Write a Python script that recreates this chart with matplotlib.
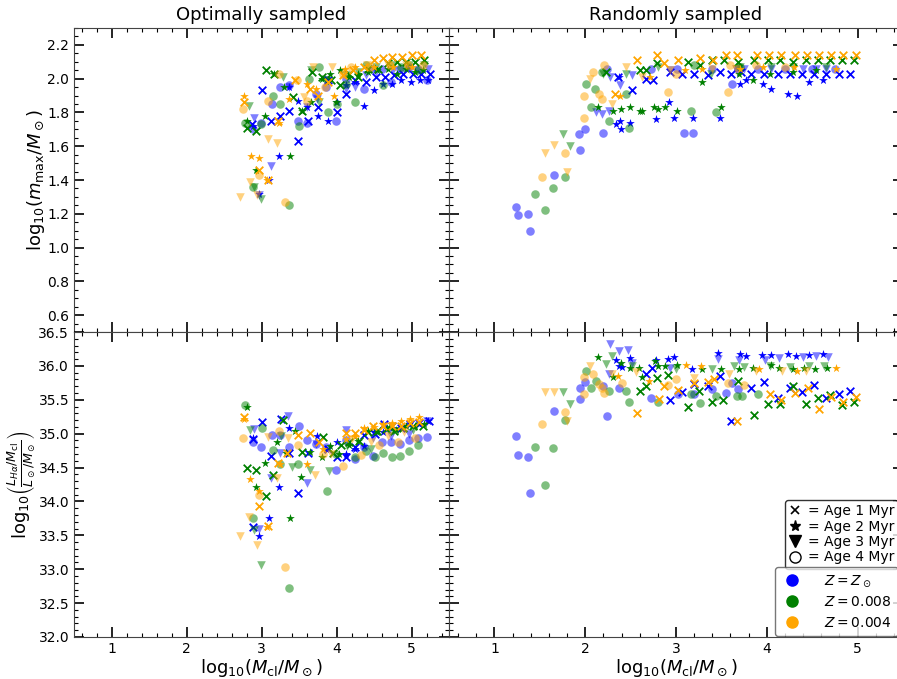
import numpy as np
import matplotlib
matplotlib.use("Agg")
import matplotlib.pyplot as plt
from matplotlib.lines import Line2D
from matplotlib.ticker import AutoMinorLocator, MultipleLocator, FormatStrFormatter

# ---------------- data: (log10 Mcl, value) ----------------
# Optimally sampled, log10(m_max)
OPT_M_SUN_A1 = [(2.87,1.73),(3.01,1.93),(3.12,1.75),(3.25,1.78),(3.36,1.81),(3.48,1.63),(3.62,1.75),(3.75,1.83),(3.88,1.99),(4.0,1.80),(4.12,1.91),(4.25,1.99),(4.39,1.98),(4.52,2.01),(4.64,2.01),(4.77,2.02),(4.88,2.03),(5.02,2.03),(5.13,2.03),(5.24,2.03)]
OPT_M_SUN_A2 = [(2.88,1.72),(2.96,1.32),(3.10,1.40),(3.23,1.54),(3.37,1.95),(3.48,1.87),(3.60,1.83),(3.75,1.78),(3.88,1.75),(4.01,1.86),(4.13,1.96),(4.25,1.98),(4.37,1.84),(4.50,1.93),(4.62,1.97),(4.74,1.97),(4.86,1.99),(4.99,1.98),(5.11,1.99),(5.22,1.99)]
OPT_M_SUN_A3 = [(2.90,1.77),(2.97,1.31),(3.13,1.48),(3.37,1.95),(3.61,1.83),(3.74,1.88),(3.86,1.99),(4.12,1.94),(4.25,1.95),(4.39,2.02),(4.53,2.04),(4.75,2.05),(4.97,2.06),(5.22,2.06)]
OPT_M_SUN_A4 = [(2.88,1.70),(2.99,1.74),(3.14,1.85),(3.24,1.95),(3.37,1.96),(3.48,1.75),(3.60,1.74),(3.73,1.91),(3.86,1.95),(3.99,1.75),(4.12,2.0),(4.36,1.94),(4.48,2.06),(4.61,2.06),(4.73,1.98),(4.85,2.06),(4.97,2.07),(5.08,2.06),(5.20,1.99)]
OPT_M_008_A1 = [(2.80,1.71),(2.93,1.69),(3.06,2.05),(3.16,2.03),(3.42,1.89),(3.54,1.81),(3.67,2.04),(3.80,2.01),(3.92,1.99),(4.04,1.96),(4.16,2.03),(4.28,2.01),(4.42,2.06),(4.55,2.06),(4.68,2.09),(4.80,2.10),(4.93,2.10),(5.04,2.10),(5.17,2.11)]
OPT_M_008_A2 = [(2.80,1.75),(2.92,1.46),(3.05,1.78),(3.17,2.03),(3.30,1.95),(3.38,1.54),(3.54,1.81),(3.66,1.86),(3.80,2.0),(3.91,2.03),(3.99,1.86),(4.04,2.05),(4.17,2.01),(4.29,2.03),(4.42,2.04),(4.54,2.05),(4.68,2.06),(4.80,2.03),(4.93,2.06),(5.04,2.04),(5.15,2.05)]
OPT_M_008_A3 = [(2.83,1.84),(2.90,1.36),(2.99,1.29),(3.28,2.01),(3.66,2.05),(3.77,1.86),(3.86,1.99),(4.13,2.02),(4.28,2.04),(4.53,2.07),(4.75,2.08),(4.97,2.08),(5.17,2.08)]
OPT_M_008_A4 = [(2.78,1.74),(2.88,1.36),(2.99,1.73),(3.15,1.90),(3.24,1.85),(3.37,1.25),(3.50,1.72),(3.63,2.0),(3.76,2.07),(3.88,1.80),(4.0,1.85),(4.12,1.97),(4.25,1.86),(4.39,2.08),(4.62,1.96),(4.86,2.07),(5.08,2.05)]
OPT_M_004_A1 = [(2.76,1.86),(2.96,1.46),(3.08,1.40),(3.22,1.75),(3.45,1.99),(3.64,1.94),(3.75,1.90),(3.88,1.98),(4.08,2.02),(4.22,2.05),(4.36,2.07),(4.50,2.11),(4.62,2.12),(4.74,2.13),(4.87,2.13),(5.0,2.14),(5.12,2.14)]
OPT_M_004_A2 = [(2.77,1.90),(2.86,1.54),(2.97,1.53),(3.07,1.40),(3.23,1.74),(3.36,1.88),(3.60,1.97),(3.72,1.94),(3.97,1.90),(4.11,2.06),(4.24,2.07),(4.50,2.07),(4.75,2.07),(5.0,2.07)]
OPT_M_004_A3 = [(2.71,1.30),(2.84,1.39),(2.94,1.31),(3.09,1.64),(3.20,1.62),(3.57,1.89),(3.69,2.07),(3.94,2.07),(4.40,2.08),(4.68,2.08),(4.93,2.08)]
OPT_M_004_A4 = [(2.75,1.82),(2.96,1.43),(3.08,1.87),(3.23,2.03),(3.31,1.27),(3.47,1.99),(3.60,1.87),(3.84,1.95),(4.08,2.03),(4.19,2.07),(4.44,2.07),(4.71,2.08),(4.95,2.08),(5.15,2.08)]

# Randomly sampled, log10(m_max)
RAN_M_SUN_A1 = [(2.36,2.01),(2.51,1.93),(2.67,2.0),(2.75,1.99),(2.93,2.04),(3.07,2.03),(3.20,2.03),(3.35,2.02),(3.49,2.04),(3.61,2.03),(3.72,2.04),(3.83,2.03),(3.97,2.03),(4.12,2.03),(4.25,2.03),(4.39,2.03),(4.52,2.03),(4.65,2.03),(4.79,2.03),(4.92,2.03)]
RAN_M_SUN_A2 = [(2.34,1.73),(2.38,1.75),(2.39,1.70),(2.37,2.01),(2.49,1.74),(2.78,1.76),(2.92,1.86),(2.98,1.77),(3.19,1.77),(3.48,1.77),(3.71,1.97),(3.77,1.99),(3.96,1.97),(4.05,1.94),(4.23,1.91),(4.33,1.90),(4.47,1.98),(4.62,1.99)]
RAN_M_SUN_A3 = [(2.12,1.80),(2.19,1.79),(2.26,1.81),(2.27,2.01),(2.38,1.96),(2.51,2.02),(2.93,2.05),(3.66,2.06),(3.75,2.06),(4.05,2.06),(4.40,2.06),(4.54,2.06),(4.65,2.06)]
RAN_M_SUN_A4 = [(1.24,1.24),(1.26,1.19),(1.37,1.20),(1.39,1.10),(1.66,1.43),(1.94,1.58),(1.93,1.67),(2.0,1.70),(2.20,1.68),(2.24,2.06),(2.73,2.06),(3.01,2.06),(3.09,1.68),(3.19,1.68),(3.40,2.06),(3.62,1.97),(3.68,2.06),(3.90,2.06),(4.20,2.06),(4.50,2.06),(4.75,2.06)]
RAN_M_008_A1 = [(2.23,2.04),(2.60,2.05),(2.67,2.05),(2.79,2.09),(3.13,2.10),(3.26,2.08),(3.40,2.11),(3.53,2.11),(3.68,2.10),(3.86,2.11),(4.01,2.11),(4.14,2.11),(4.29,2.10),(4.43,2.11),(4.56,2.11),(4.70,2.11),(4.83,2.11),(4.96,2.11)]
RAN_M_008_A2 = [(2.14,1.83),(2.31,1.81),(2.39,1.82),(2.49,1.83),(2.60,1.81),(2.63,1.81),(2.76,1.83),(2.80,1.82),(2.88,1.83),(3.01,1.81),(3.29,1.98),(3.50,1.83),(3.69,2.03),(3.85,1.99),(4.03,2.03),(4.29,2.04),(4.54,2.05)]
RAN_M_008_A3 = [(1.76,1.67),(1.83,1.60),(2.20,2.03),(2.45,2.03),(2.80,2.07),(3.39,2.03),(3.70,2.07),(4.05,2.07),(4.29,2.07),(4.65,2.07)]
RAN_M_008_A4 = [(1.45,1.32),(1.56,1.22),(1.64,1.35),(1.78,1.42),(2.01,1.97),(2.06,1.83),(2.11,1.94),(2.19,2.04),(2.26,1.75),(2.45,1.91),(2.48,1.71),(3.17,1.81),(3.20,2.08),(3.44,1.80),(3.70,2.07)]
RAN_M_004_A1 = [(2.33,1.91),(2.57,2.11),(2.79,2.14),(2.87,2.09),(3.02,2.11),(3.26,2.12),(3.41,2.11),(3.55,2.14),(3.67,2.14),(3.89,2.14),(4.02,2.14),(4.16,2.14),(4.31,2.14),(4.44,2.14),(4.57,2.14),(4.71,2.14),(4.84,2.14),(4.98,2.14)]
RAN_M_004_A2 = [(2.38,1.90),(2.71,2.01),(3.10,2.05),(3.29,2.06),(3.70,2.06),(3.96,2.07),(4.30,2.07),(4.76,2.06)]
RAN_M_004_A3 = [(1.56,1.56),(1.66,1.61),(1.80,1.45),(2.05,2.0),(2.30,1.85),(2.45,2.07),(2.63,2.01),(2.93,2.05),(3.40,2.06),(3.66,2.06)]
RAN_M_004_A4 = [(1.52,1.42),(1.78,1.56),(1.99,1.77),(1.99,1.90),(2.09,2.04),(2.15,1.91),(2.18,1.88),(2.21,2.08),(2.91,1.92),(3.0,2.03),(3.57,1.92),(3.59,2.08),(3.88,2.08),(4.2,2.07)]

# Optimally sampled, log10(L_Halpha/Mcl)
OPT_L_SUN_A1 = [(2.88,34.92),(2.89,33.63),(3.01,35.17),(3.12,34.67),(3.26,35.21),(3.37,34.72),(3.49,34.13),(3.62,34.72),(3.88,34.77),(4.0,34.65),(4.12,34.65),(4.25,34.81),(4.37,34.98),(4.51,34.99),(4.63,35.14),(4.74,35.12),(4.86,35.08),(4.98,35.14),(5.10,35.16),(5.23,35.18)]
OPT_L_SUN_A2 = [(2.88,34.93),(2.96,33.49),(3.10,33.75),(3.23,34.22),(3.37,35.08),(3.74,34.96),(3.86,34.77),(4.0,34.87),(4.12,34.70),(4.25,34.77),(4.37,34.82),(4.50,35.03),(4.62,35.02),(4.74,35.09),(4.86,35.09),(4.97,35.14),(5.10,35.15),(5.22,35.19)]
OPT_L_SUN_A3 = [(2.90,35.07),(2.97,33.59),(3.12,34.34),(3.24,34.72),(3.35,35.26),(3.60,34.27),(3.73,34.85),(4.12,35.05),(4.48,34.94),(4.73,34.97),(4.97,35.0),(5.20,35.19)]
OPT_L_SUN_A4 = [(2.88,34.87),(2.99,34.81),(3.14,34.98),(3.24,34.98),(3.37,34.80),(3.50,35.12),(3.60,34.91),(3.73,34.85),(3.86,34.81),(3.99,34.46),(4.12,34.90),(4.24,34.62),(4.36,34.80),(4.48,34.67),(4.61,34.88),(4.73,34.88),(4.84,34.85),(4.96,34.90),(5.08,34.93),(5.20,34.95)]
OPT_L_008_A1 = [(2.81,34.50),(2.93,34.46),(3.06,34.08),(3.15,34.39),(3.29,35.20),(3.54,34.73),(3.82,34.95),(3.95,34.72),(4.06,34.84),(4.17,34.87),(4.30,34.89),(4.42,35.02),(4.54,35.04),(4.66,35.07),(4.77,35.04),(4.89,35.08),(5.02,35.11),(5.15,35.12)]
OPT_L_008_A2 = [(2.80,35.40),(2.92,34.22),(3.05,34.56),(3.20,34.88),(3.32,34.71),(3.38,33.75),(3.45,35.04),(3.53,34.36),(3.65,34.73),(3.80,34.65),(3.91,34.82),(4.03,34.70),(4.16,34.83),(4.28,34.89),(4.42,35.04),(4.54,35.02),(4.67,35.08),(4.79,35.06),(4.92,35.12),(5.04,35.12),(5.16,35.14)]
OPT_L_008_A3 = [(2.84,35.06),(2.90,33.58),(2.99,33.06),(3.26,34.96),(3.40,34.51),(3.65,34.47),(3.90,34.45),(4.14,34.82),(4.46,34.77),(4.75,35.04),(5.02,35.06)]
OPT_L_008_A4 = [(2.78,35.42),(2.88,33.75),(3.01,35.08),(3.15,34.76),(3.24,34.55),(3.36,32.72),(3.48,34.55),(3.87,34.15),(3.99,34.70),(4.25,34.65),(4.39,34.75),(4.51,34.66),(4.62,34.71),(4.74,34.66),(4.85,34.67),(4.97,34.75),(5.09,34.83)]
OPT_L_004_A1 = [(2.76,35.24),(2.96,33.93),(3.08,33.64),(3.22,34.56),(3.34,34.71),(3.49,34.98),(3.64,35.01),(3.76,34.87),(4.12,35.01),(4.24,35.01),(4.37,35.06),(4.48,35.11),(4.62,35.11),(4.74,35.11),(4.86,35.12),(4.98,35.16),(5.10,35.17)]
OPT_L_004_A2 = [(2.76,35.22),(2.85,34.33),(2.97,34.15),(3.07,33.63),(3.24,34.55),(3.60,34.55),(3.82,34.78),(4.12,34.92),(4.24,34.97),(4.36,35.08),(4.50,35.10),(4.62,35.14),(4.74,35.16),(4.86,35.19),(4.98,35.21),(5.10,35.24)]
OPT_L_004_A3 = [(2.71,33.49),(2.83,33.77),(2.94,33.36),(3.09,34.95),(3.20,34.34),(3.35,34.94),(3.71,34.39),(3.92,34.70),(4.20,34.92),(4.46,34.87),(4.68,34.97),(4.90,35.02)]
OPT_L_004_A4 = [(2.75,34.94),(2.96,34.10),(3.23,35.04),(3.31,33.03),(3.48,34.84),(3.82,34.70),(4.08,34.53),(4.33,34.68),(4.57,34.83),(4.82,34.87),(5.04,34.94)]

# Randomly sampled, log10(L_Halpha/Mcl)
RAN_L_SUN_A1 = [(2.67,35.88),(2.74,35.97),(2.93,35.50),(3.07,35.62),(3.20,35.73),(3.35,35.71),(3.49,35.85),(3.61,35.18),(3.83,35.67),(3.97,35.76),(4.12,35.53),(4.25,35.68),(4.39,35.61),(4.52,35.72),(4.65,35.53),(4.79,35.59),(4.92,35.63)]
RAN_L_SUN_A2 = [(2.34,36.08),(2.37,36.0),(2.40,35.99),(2.49,36.11),(2.78,36.08),(2.91,36.10),(2.98,36.13),(3.18,35.96),(3.46,36.19),(3.70,36.18),(3.77,36.14),(3.95,36.16),(4.05,36.16),(4.23,36.18),(4.32,36.15),(4.47,36.16),(4.62,36.18)]
RAN_L_SUN_A3 = [(2.27,36.33),(2.37,36.22),(2.47,36.24),(2.26,35.88),(2.51,36.05),(2.93,35.97),(3.46,36.10),(3.69,36.08),(3.98,36.09),(4.13,36.11),(4.40,36.13),(4.54,36.15),(4.67,36.13)]
RAN_L_SUN_A4 = [(1.24,34.96),(1.26,34.68),(1.37,34.65),(1.39,34.12),(1.66,35.33),(1.94,35.51),(1.94,35.67),(2.0,35.76),(2.20,35.71),(2.24,35.26),(2.37,35.67),(2.73,35.53),(3.02,35.59),(3.20,35.59),(3.40,35.66),(3.55,35.60),(3.62,35.75),(3.68,35.66)]
RAN_L_008_A1 = [(2.60,35.63),(2.67,35.71),(2.79,35.82),(2.91,35.87),(3.13,35.40),(3.25,35.63),(3.40,35.47),(3.52,35.50),(3.68,35.78),(3.86,35.28),(4.01,35.44),(4.14,35.44),(4.29,35.71),(4.43,35.44),(4.56,35.52),(4.70,35.57),(4.83,35.42),(4.96,35.46)]
RAN_L_008_A2 = [(2.14,36.13),(2.31,35.83),(2.39,36.05),(2.49,35.97),(2.59,35.97),(2.63,35.83),(2.77,36.07),(2.80,36.0),(2.88,36.0),(3.01,36.02),(3.29,35.95),(3.50,35.95),(3.69,35.96),(3.85,35.97),(4.05,36.01),(4.13,35.97),(4.29,35.96),(4.41,35.97),(4.53,35.96),(4.66,35.97)]
RAN_L_008_A3 = [(1.76,35.61),(1.83,35.44),(2.23,36.03),(2.30,36.15),(2.52,36.0),(3.0,35.95),(3.40,35.96),(3.64,36.0),(3.75,35.99),(4.03,36.0),(4.25,35.99),(4.47,36.0),(4.63,36.0)]
RAN_L_008_A4 = [(1.45,34.80),(1.56,34.24),(1.64,34.79),(1.78,35.20),(2.01,35.93),(2.06,35.67),(2.12,35.77),(2.26,35.63),(2.45,35.63),(2.48,35.47),(2.80,35.47),(3.17,35.59),(3.26,35.45),(3.44,35.55),(3.67,35.55),(3.73,35.55),(3.90,35.58)]
RAN_L_004_A1 = [(2.57,35.30),(2.81,35.51),(2.87,35.70),(3.02,35.64),(3.20,35.75),(3.35,35.76),(3.42,35.80),(3.67,35.18),(4.03,35.59),(4.16,35.49),(4.31,35.60),(4.45,35.67),(4.58,35.36),(4.71,35.54),(4.84,35.46),(4.98,35.54)]
RAN_L_004_A2 = [(2.36,35.85),(2.70,35.77),(3.11,36.01),(3.27,36.0),(3.91,35.95),(4.33,35.93),(4.76,35.97)]
RAN_L_004_A3 = [(1.56,35.62),(1.66,35.62),(1.80,35.19),(2.05,36.0),(2.30,35.88),(2.56,35.91),(3.20,35.82),(3.58,35.88),(3.88,35.93),(4.17,35.93),(4.43,35.93)]
RAN_L_004_A4 = [(1.52,35.14),(1.78,35.32),(1.99,35.58),(1.99,35.83),(2.09,35.88),(2.15,35.73),(2.18,35.68),(2.21,35.60),(2.40,35.75),(2.91,35.72),(3.0,35.80),(3.57,35.75),(3.75,35.72)]

COLORS = ['blue', 'green', 'orange']
Z_LABELS = [r'$Z = Z_\odot$', r'$Z = 0.008$', r'$Z = 0.004$']
AGE_LABELS = ['= Age 1 Myr', '= Age 2 Myr', '= Age 3 Myr', '= Age 4 Myr']
TITLES = ['Optimally sampled', 'Randomly sampled']

PANELS = {
    (0, 0): [[OPT_M_SUN_A1, OPT_M_SUN_A2, OPT_M_SUN_A3, OPT_M_SUN_A4],
             [OPT_M_008_A1, OPT_M_008_A2, OPT_M_008_A3, OPT_M_008_A4],
             [OPT_M_004_A1, OPT_M_004_A2, OPT_M_004_A3, OPT_M_004_A4]],
    (0, 1): [[RAN_M_SUN_A1, RAN_M_SUN_A2, RAN_M_SUN_A3, RAN_M_SUN_A4],
             [RAN_M_008_A1, RAN_M_008_A2, RAN_M_008_A3, RAN_M_008_A4],
             [RAN_M_004_A1, RAN_M_004_A2, RAN_M_004_A3, RAN_M_004_A4]],
    (1, 0): [[OPT_L_SUN_A1, OPT_L_SUN_A2, OPT_L_SUN_A3, OPT_L_SUN_A4],
             [OPT_L_008_A1, OPT_L_008_A2, OPT_L_008_A3, OPT_L_008_A4],
             [OPT_L_004_A1, OPT_L_004_A2, OPT_L_004_A3, OPT_L_004_A4]],
    (1, 1): [[RAN_L_SUN_A1, RAN_L_SUN_A2, RAN_L_SUN_A3, RAN_L_SUN_A4],
             [RAN_L_008_A1, RAN_L_008_A2, RAN_L_008_A3, RAN_L_008_A4],
             [RAN_L_004_A1, RAN_L_004_A2, RAN_L_004_A3, RAN_L_004_A4]],
}

MARKERS = ['x', '*', 'v', 'o']
SIZES = [30, 42, 38, 38]
ALPHAS = [1.0, 1.0, 0.5, 0.5]

fig = plt.figure(figsize=(8.97, 6.79), dpi=100)
W, H = 897.0, 679.0
def add_ax(x0, y0, x1, y1):
    return fig.add_axes([x0 / W, 1 - y1 / H, (x1 - x0) / W, (y1 - y0) / H])

# right column extends a little past the figure edge (as in the cropped reference)
axes = {
    (0, 0): add_ax(74, 28, 449, 332),
    (0, 1): add_ax(449, 28, 903, 332),
    (1, 0): add_ax(74, 332, 449, 637),
    (1, 1): add_ax(449, 332, 903, 637),
}

for (r, c), ax in axes.items():
    groups = PANELS[(r, c)]
    for ci, group in enumerate(groups):
        for ai, pts in enumerate(group):
            arr = np.array(pts)
            ax.scatter(arr[:, 0], arr[:, 1], marker=MARKERS[ai], s=SIZES[ai],
                       color=COLORS[ci], alpha=ALPHAS[ai], linewidths=1.3 if ai == 0 else 0)
    ax.set_xlim(0.5, 5.5)
    if r == 0:
        ax.set_ylim(0.5, 2.3)
        ax.yaxis.set_major_locator(MultipleLocator(0.2))
    else:
        ax.set_ylim(32.0, 36.5)
        ax.yaxis.set_major_locator(MultipleLocator(0.5))
    ax.yaxis.set_major_formatter(FormatStrFormatter('%.1f'))
    ax.xaxis.set_major_locator(MultipleLocator(1))
    ax.xaxis.set_minor_locator(AutoMinorLocator())
    ax.yaxis.set_minor_locator(AutoMinorLocator())
    ax.tick_params(which='both', direction='in', top=True, right=True, labelsize=10)
    ax.tick_params(which='major', length=7, width=1.2)
    ax.tick_params(which='minor', length=3, width=0.8)
    if r == 0:
        ax.tick_params(labelbottom=False)
        ax.set_title(TITLES[c], fontsize=13)
    else:
        ax.set_xlabel(r'$\mathrm{log}_{10}(M_{\rm cl}/M_\odot)$', fontsize=13)
        ax.xaxis.set_label_coords(0.5, -0.066)
    if c == 1:
        ax.tick_params(labelleft=False)
    for sp in ax.spines.values():
        sp.set_color('#444444')

axes[(0, 0)].set_ylabel(r'$\mathrm{log}_{10}(m_{\rm max}/M_\odot)$', fontsize=13)
axes[(0, 0)].yaxis.set_label_coords(-0.072, 0.5)
axes[(1, 0)].set_ylabel(r'$\mathrm{log}_{10}\left(\frac{L_{H\alpha}/M_{\rm cl}}{L_\odot/M_\odot}\right)$', fontsize=13)
axes[(1, 0)].yaxis.set_label_coords(-0.097, 0.5)

axr = axes[(1, 1)]
age_handles = [
    Line2D([], [], marker='x', color='black', linestyle='none', markersize=6, markeredgewidth=1.2),
    Line2D([], [], marker='*', color='black', linestyle='none', markersize=8),
    Line2D([], [], marker='v', color='black', linestyle='none', markersize=8),
    Line2D([], [], marker='o', markerfacecolor='none', markeredgecolor='black', linestyle='none', markersize=8),
]
leg1 = axr.legend(age_handles, AGE_LABELS, loc='upper right', bbox_to_anchor=(0.9895, 0.449),
                  borderaxespad=0, fontsize=10, handlelength=0.8, handletextpad=0.5,
                  labelspacing=0.1, borderpad=0.3, frameon=True, edgecolor='black', fancybox=True)
axr.add_artist(leg1)
z_handles = [Line2D([], [], marker='o', color=c, linestyle='none', markersize=8) for c in COLORS]
leg2 = axr.legend(z_handles, Z_LABELS, loc='upper right', bbox_to_anchor=(0.9895, 0.229),
                  borderaxespad=0, fontsize=10, handlelength=1.5, handletextpad=1.6,
                  labelspacing=0.45, borderpad=0.45, frameon=True, edgecolor='#555555', fancybox=True)

fig.savefig('out.png', dpi=100)
